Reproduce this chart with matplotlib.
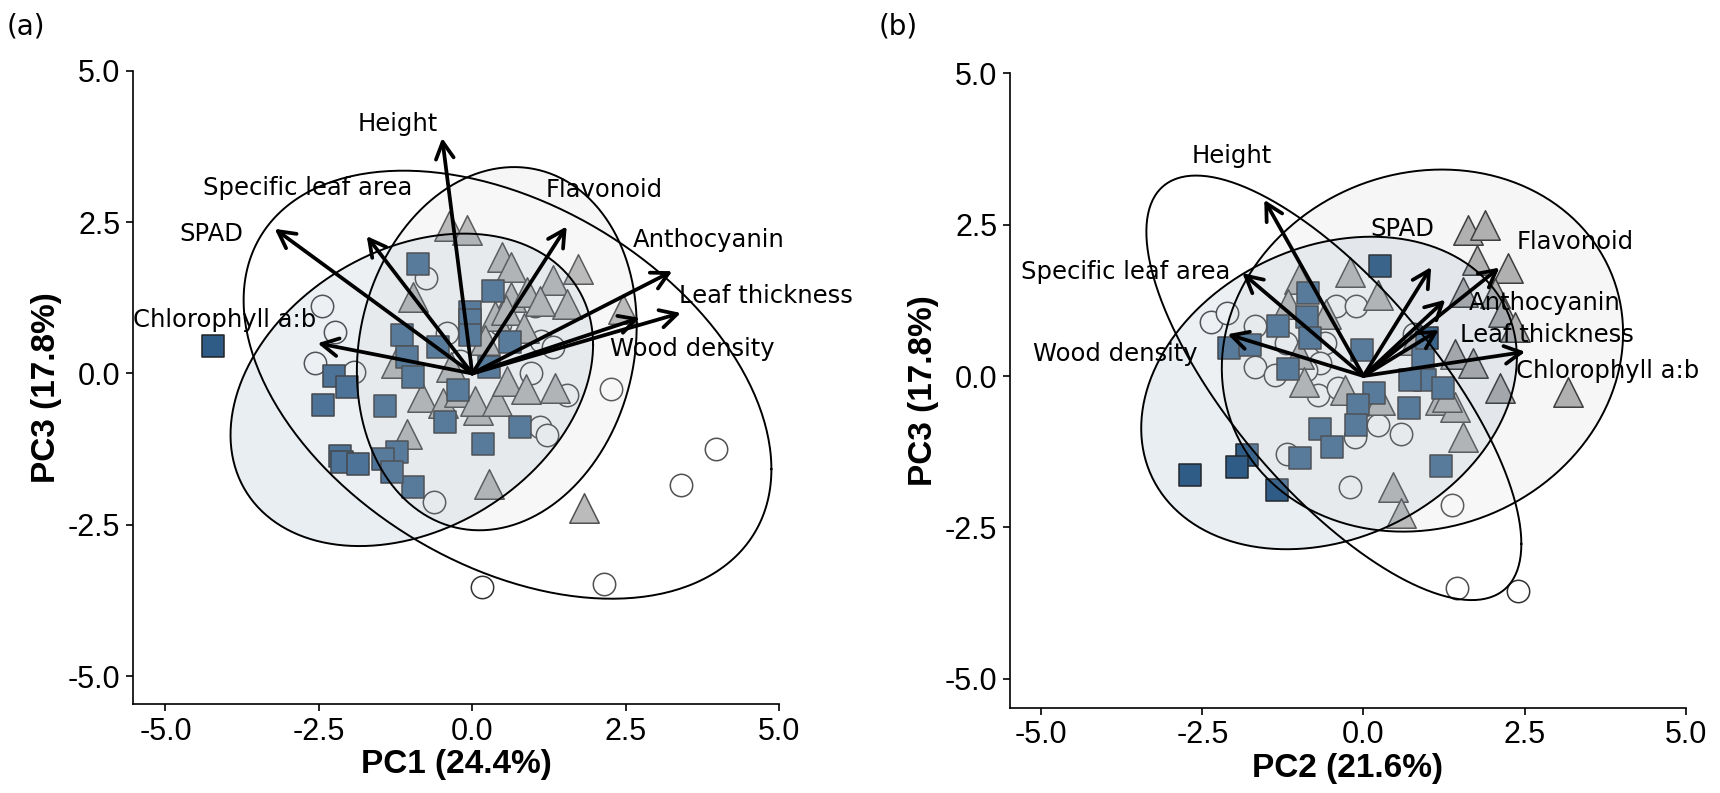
import numpy as np
import matplotlib
matplotlib.use("Agg")
import matplotlib.pyplot as plt

# ---- panel (a): PC1 vs PC3 ----
a_sq_x = [-4.23, -0.88, 0.34, -0.04, -0.04, -0.04, -1.15, -1.06, -0.55, 0.62, -0.96, -1.42, -0.23, 0.27,
          -0.44, 0.78, 0.18, -1.23, -1.45, -0.96, -1.31, -2.26, -2.04, -2.43, -2.15, -2.12, -1.87]
a_sq_y = [0.45, 1.81, 1.36, 1.01, 0.88, 0.63, 0.63, 0.27, 0.43, 0.52, -0.06, -0.53, -0.28, 0.10,
          -0.80, -0.89, -1.16, -1.30, -1.42, -1.88, -1.63, -0.04, -0.23, -0.52, -1.37, -1.47, -1.50]
a_tri_x = [-0.38, -0.09, 0.48, 0.64, 1.72, 1.32, 1.55, 2.46, -0.97, 0.63, 0.90, 1.10, 0.37, 0.55, 0.85,
           -1.25, -0.82, -0.48, -0.22, 0.10, 0.05, 0.40, 0.56, 0.88, 1.35, -1.07, 0.27, 1.82, -0.35, 0.20]
a_tri_y = [2.44, 2.37, 1.92, 1.76, 1.73, 1.54, 1.15, 1.07, 1.27, 1.27, 1.35, 1.20, 0.95, 1.05, 0.75,
           0.17, -0.38, -0.48, -0.30, -0.60, -0.45, -0.46, -0.12, -0.25, -0.24, -1.00, -1.82, -2.22, 0.10, 0.55]
a_cir_x = [-2.45, -2.23, -2.56, -1.92, -0.75, -0.41, 0.46, 1.02, 1.12, 1.32, 1.55, 1.11, 1.22, -0.63,
           2.27, 3.98, 3.40, 0.16, 2.15, 0.95, -0.20]
a_cir_y = [1.12, 0.68, 0.17, 0.02, 1.58, 0.67, 0.82, 1.12, 0.53, 0.43, -0.35, -0.89, -1.02, -2.12,
           -0.26, -1.25, -1.84, -3.52, -3.48, 0.00, 0.20]

a_vars = ["Height", "Specific leaf area", "SPAD", "Chlorophyll a:b", "Flavonoid",
          "Anthocyanin", "Leaf thickness", "Wood density"]
a_arrow_x = [-0.49, -1.72, -3.22, -2.52, 1.54, 3.26, 3.40, 2.73]
a_arrow_y = [3.89, 2.27, 2.39, 0.50, 2.43, 1.69, 1.00, 0.92]
a_label_x = [-1.21, -2.68, -4.25, -4.03, 2.15, 3.85, 4.79, 3.58]
a_label_y = [4.12, 3.07, 2.30, 0.88, 3.03, 2.20, 1.28, 0.40]

# ellipses: centre and shape matrix (sxx, sxy, syy) for squares, triangles, circles
a_ell_cx = [-0.985, 0.40, 0.575]
a_ell_cy = [-0.27, 0.41, -0.185]
a_ell_sxx = [8.73, 5.20, 18.5]
a_ell_sxy = [2.20, 0.85, -6.0]
a_ell_syy = [6.66, 9.00, 12.5]

# ---- panel (b): PC2 vs PC3 ----
b_sq_x = [0.25, -0.86, -0.88, -0.83, -1.33, -2.08, -1.76, -1.17, -0.03, 0.93, 0.98, 0.95, 0.72, 1.24,
          0.17, -0.08, -0.11, 0.70, -0.67, -0.49, -0.99, 1.21, -1.81, -1.96, -2.69, -1.35]
b_sq_y = [1.81, 1.37, 0.98, 0.62, 0.82, 0.46, 0.51, 0.11, 0.43, 0.29, 0.62, -0.07, -0.07, -0.20,
          -0.28, -0.48, -0.81, -0.53, -0.88, -1.17, -1.36, -1.49, -1.31, -1.50, -1.64, -1.88]
b_tri_x = [1.63, 1.89, 1.76, 2.25, 1.55, 2.04, 2.17, 2.35, -0.21, 0.23, 1.42, 1.70, 2.12, 3.18, 1.55,
           1.19, 1.42, 0.46, 0.59, -0.29, 0.25, -1.00, -1.17, -0.58, -1.00, -0.92, 1.30, 0.80]
b_tri_y = [2.41, 2.50, 1.92, 1.78, 1.39, 1.37, 1.06, 0.81, 1.72, 1.34, 0.37, 0.21, -0.20, -0.26, -1.00,
           -0.40, -0.51, -1.83, -2.27, -0.23, -0.40, 1.61, 1.19, 1.03, 0.36, -0.10, -0.35, 0.60]
b_cir_x = [-2.36, -2.12, -1.68, -1.68, -1.37, -1.19, -0.42, -0.11, -0.60, -0.67, -0.70, 0.23, -0.13,
           0.59, -0.21, 1.37, 1.45, 2.40, 0.78, -1.20, -0.90, -0.40]
b_cir_y = [0.90, 1.04, 0.82, 0.15, 0.02, -1.28, 1.15, 1.15, 0.54, 0.21, -0.31, -0.81, -1.00,
           -0.95, -1.83, -2.13, -3.50, -3.55, 0.69, 0.55, 0.10, -0.20]

b_vars = ["Height", "Specific leaf area", "Wood density", "SPAD", "Flavonoid",
          "Anthocyanin", "Leaf thickness", "Chlorophyll a:b"]
b_arrow_x = [-1.54, -1.88, -2.11, 1.05, 2.11, 1.27, 1.17, 2.51]
b_arrow_y = [2.91, 1.70, 0.69, 1.80, 1.79, 1.26, 0.76, 0.40]
b_label_x = [-2.04, -3.69, -3.86, 0.60, 3.28, 2.81, 2.85, 3.79]
b_label_y = [3.64, 1.72, 0.36, 2.43, 2.22, 1.21, 0.68, 0.08]

b_ell_cx = [-0.535, 0.915, -0.46]
b_ell_cy = [-0.28, 0.42, -0.195]
b_ell_sxx = [8.50, 9.70, 8.47]
b_ell_sxy = [1.70, 0.90, -7.5]
b_ell_syy = [6.66, 8.94, 12.29]

ticks = [-5.0, -2.5, 0.0, 2.5, 5.0]
tick_labels = ["-5.0", "-2.5", "0.0", "2.5", "5.0"]

sq_color = "#2e5c87"
tri_color = "#b0b0b0"
ell_fill = [(sq_color, 0.10), (tri_color, 0.10), ("white", 0.15)]


def draw_ellipses(ax, cx, cy, sxx, sxy, syy):
    t = np.linspace(0, 2 * np.pi, 300)
    for i in range(len(cx)):
        S = np.array([[sxx[i], sxy[i]], [sxy[i], syy[i]]])
        L = np.linalg.cholesky(S)
        pts = (L @ np.vstack([np.cos(t), np.sin(t)])).T + [cx[i], cy[i]]
        fc, al = ell_fill[i]
        ax.fill(pts[:, 0], pts[:, 1], color=fc, alpha=al, lw=0, zorder=5)
        ax.plot(pts[:, 0], pts[:, 1], color="black", lw=1.4, zorder=5.5)


def panel(ax, sq, tri, cir, ell, arr, lab, names, xlim, ylim, xlabel):
    ax.scatter(cir[0], cir[1], marker="o", s=260, facecolor="white", edgecolor="#333333",
               linewidth=1.1, zorder=2)
    ax.scatter(tri[0], tri[1], marker="^", s=450, facecolor=tri_color, edgecolor="#333333",
               linewidth=1.1, zorder=3)
    ax.scatter(sq[0], sq[1], marker="s", s=240, facecolor=sq_color, edgecolor="#222222",
               linewidth=1.1, zorder=4)
    draw_ellipses(ax, *ell)
    for i, name in enumerate(names):
        ax.annotate("", xy=(arr[0][i], arr[1][i]), xytext=(0, 0),
                    arrowprops=dict(arrowstyle="->,head_length=0.6,head_width=0.32",
                                    lw=2.7, color="black", shrinkA=0, shrinkB=0,
                                    mutation_scale=20),
                    zorder=6)
        ax.text(lab[0][i], lab[1][i], name, ha="center", va="center", fontsize=17.5,
                family="DejaVu Sans", zorder=7)
    ax.set_xlim(*xlim)
    ax.set_ylim(*ylim)
    ax.set_xticks(ticks)
    ax.set_yticks(ticks)
    ax.set_xticklabels(tick_labels, family="Liberation Sans", fontsize=22)
    ax.set_yticklabels(tick_labels, family="Liberation Sans", fontsize=22)
    ax.spines["top"].set_visible(False)
    ax.spines["right"].set_visible(False)
    for s in ["left", "bottom"]:
        ax.spines[s].set_linewidth(1.2)
    ax.tick_params(length=5, width=1.2, pad=4)
    ax.set_xlabel(xlabel, family="Liberation Sans", fontsize=24, fontweight="bold", labelpad=2)
    ax.set_ylabel("PC3 (17.8%)", family="Liberation Sans", fontsize=24, fontweight="bold",
                  labelpad=4)


fig = plt.figure(figsize=(17.2, 7.93), dpi=100)
axa = fig.add_axes([0.0773, 0.1122, 0.3756, 0.7985])
axb = fig.add_axes([0.5871, 0.1074, 0.3929, 0.8002])

panel(axa, (a_sq_x, a_sq_y), (a_tri_x, a_tri_y), (a_cir_x, a_cir_y),
      (a_ell_cx, a_ell_cy, a_ell_sxx, a_ell_sxy, a_ell_syy),
      (a_arrow_x, a_arrow_y), (a_label_x, a_label_y), a_vars,
      (-5.53, 5.0), (-5.46, 5.0), "PC1 (24.4%)")
panel(axb, (b_sq_x, b_sq_y), (b_tri_x, b_tri_y), (b_cir_x, b_cir_y),
      (b_ell_cx, b_ell_cy, b_ell_sxx, b_ell_sxy, b_ell_syy),
      (b_arrow_x, b_arrow_y), (b_label_x, b_label_y), b_vars,
      (-5.49, 5.0), (-5.48, 5.0), "PC2 (21.6%)")

fig.text(26 / 1720, 1 - 26 / 793, "(a)", ha="center", va="center", fontsize=20, family="DejaVu Sans")
fig.text(898 / 1720, 1 - 26 / 793, "(b)", ha="center", va="center", fontsize=20, family="DejaVu Sans")

fig.savefig("out.png", dpi=100)
